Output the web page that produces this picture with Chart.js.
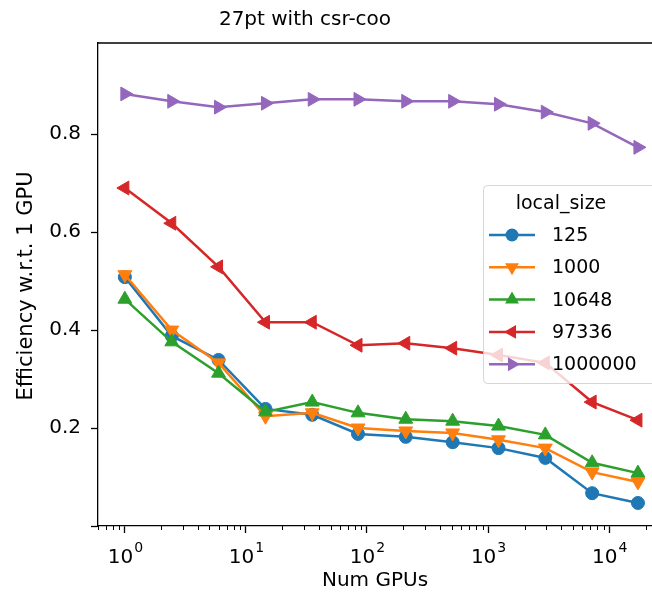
<!DOCTYPE html>
<html>
<head>
<meta charset="utf-8">
<script src="https://cdn.jsdelivr.net/npm/chart.js@4"></script>
<style>
  body { margin: 0; background: #fff; }
  canvas { display: block; }
</style>
</head>
<body>
<canvas id="effChart" width="652" height="595"></canvas>
<script>
// Num GPUs on the x axis
const numGpus = [1, 2.44, 5.94, 14.5, 35.3, 84.3, 209, 510, 1220, 2970, 7240, 17300];

// efficiency w.r.t. 1 GPU, one array per local_size
const eff125 = [0.508, 0.388, 0.339, 0.239, 0.227, 0.188, 0.182, 0.171, 0.159, 0.139, 0.067, 0.047];
const eff1000 = [0.513, 0.400, 0.333, 0.224, 0.231, 0.200, 0.194, 0.190, 0.176, 0.159, 0.110, 0.090];
const eff10648 = [0.463, 0.376, 0.312, 0.233, 0.253, 0.231, 0.218, 0.214, 0.204, 0.186, 0.129, 0.108];
const eff97336 = [0.690, 0.618, 0.529, 0.416, 0.416, 0.369, 0.373, 0.363, 0.349, 0.333, 0.253, 0.216];
const eff1000000 = [0.882, 0.867, 0.855, 0.863, 0.871, 0.871, 0.867, 0.867, 0.861, 0.845, 0.822, 0.773];

const sizeLabels = ["125", "1000", "10648", "97336", "1000000"];
const xTickValues = [1, 10, 100, 1000, 10000];
const yTickValues = [0, 0.2, 0.4, 0.6, 0.8];

const FONT = "'DejaVu Sans', sans-serif";
const colors = ["#1f77b4", "#ff7f0e", "#2ca02c", "#d62728", "#9467bd"];
const styles = [
  { style: "circle", rot: 0, r: 6.5 },
  { style: "triangle", rot: 180, r: 8 },
  { style: "triangle", rot: 0, r: 8 },
  { style: "triangle", rot: -90, r: 8 },
  { style: "triangle", rot: 90, r: 8 },
];
const series = [eff125, eff1000, eff10648, eff97336, eff1000000];

const datasets = series.map((vals, i) => ({
  label: sizeLabels[i],
  data: vals.map((v, j) => ({ x: numGpus[j], y: v })),
  borderColor: colors[i],
  backgroundColor: colors[i],
  borderWidth: 2.5,
  pointStyle: styles[i].style,
  rotation: styles[i].rot,
  pointRadius: styles[i].r,
  pointBorderWidth: 1,
  pointBorderColor: colors[i],
  pointBackgroundColor: colors[i],
  tension: 0,
  order: 5 - i,
}));

function drawMarker(ctx, m, x, y) {
  ctx.beginPath();
  if (m.style === "circle") {
    ctx.arc(x, y, m.r, 0, Math.PI * 2);
  } else {
    for (let k = 0; k < 3; k++) {
      const a = (m.rot * Math.PI) / 180 + (k * 2 * Math.PI) / 3;
      const px = x + Math.sin(a) * m.r;
      const py = y - Math.cos(a) * m.r;
      if (k === 0) ctx.moveTo(px, py);
      else ctx.lineTo(px, py);
    }
    ctx.closePath();
  }
  ctx.fill();
}

const decor = {
  id: "decor",
  afterDraw(chart) {
    const ctx = chart.ctx;
    const a = chart.chartArea;
    const xs = chart.scales.x;
    ctx.save();

    // top spine
    ctx.strokeStyle = "#000";
    ctx.lineWidth = 1.3;
    ctx.beginPath();
    ctx.moveTo(a.left, a.top);
    ctx.lineTo(a.right, a.top);
    ctx.stroke();

    // minor log ticks
    ctx.lineWidth = 1;
    ctx.beginPath();
    for (let e = -1; e <= 4; e++) {
      for (let m = 2; m <= 9; m++) {
        const v = m * Math.pow(10, e);
        if (v < xs.min || v > xs.max) continue;
        const px = Math.round(xs.getPixelForValue(v)) + 0.5;
        ctx.moveTo(px, a.bottom);
        ctx.lineTo(px, a.bottom + 4);
      }
    }
    ctx.stroke();

    // x tick labels 10^k
    ctx.fillStyle = "#000";
    ctx.textBaseline = "alphabetic";
    xTickValues.forEach((v) => {
      const px = xs.getPixelForValue(v);
      const exp = String(Math.round(Math.log10(v)));
      ctx.font = "20px " + FONT;
      const wBase = ctx.measureText("10").width;
      ctx.font = "14px " + FONT;
      const wExp = ctx.measureText(exp).width;
      const left = px - (wBase + wExp) / 2;
      ctx.font = "20px " + FONT;
      ctx.textAlign = "left";
      ctx.fillText("10", left, 563);
      ctx.font = "14px " + FONT;
      ctx.fillText(exp, left + wBase + 1, 552);
    });

    // title and axis titles
    ctx.font = "20px " + FONT;
    ctx.textAlign = "center";
    ctx.textBaseline = "middle";
    ctx.fillText("27pt with csr-coo", 305, 20);
    ctx.fillText("Num GPUs", (a.left + a.right) / 2, 581);
    ctx.save();
    ctx.font = "21px " + FONT;
    ctx.translate(27, 286);
    ctx.rotate(-Math.PI / 2);
    ctx.fillText("Efficiency w.r.t. 1 GPU", 0, 0);
    ctx.restore();

    // legend box
    ctx.fillStyle = "rgba(255,255,255,0.8)";
    ctx.strokeStyle = "rgba(204,204,204,0.8)";
    ctx.lineWidth = 1;
    ctx.beginPath();
    ctx.roundRect(483.5, 185.5, 190, 198, 4);
    ctx.fill();
    ctx.stroke();

    ctx.fillStyle = "#000";
    ctx.font = "19px " + FONT;
    ctx.textAlign = "center";
    ctx.fillText("local_size", 561, 204);
    ctx.textAlign = "left";
    chart.data.datasets.forEach((ds, i) => {
      const yy = 235 + i * 32.3;
      ctx.strokeStyle = ds.borderColor;
      ctx.lineWidth = 2.5;
      ctx.beginPath();
      ctx.moveTo(489, yy);
      ctx.lineTo(535, yy);
      ctx.stroke();
      ctx.fillStyle = ds.borderColor;
      drawMarker(ctx, styles[i], 512, yy);
      ctx.fillStyle = "#000";
      ctx.fillText(ds.label, 552, yy + 1);
    });

    ctx.restore();
  },
};

const effCtx = document.getElementById("effChart").getContext("2d");

const effChart = new Chart(effCtx, {
  type: "line",
  data: { datasets: datasets },
  options: {
    responsive: false,
    animation: false,
    layout: { autoPadding: false, padding: { top: 43, left: 0, right: 0, bottom: 0 } },
    plugins: {
      legend: { display: false },
      title: { display: false },
      tooltip: { enabled: false },
    },
    scales: {
      x: {
        type: "logarithmic",
        min: 0.6225,
        max: 22600,
        afterBuildTicks: (scale) => {
          scale.ticks = xTickValues.map((v) => ({ value: v }));
        },
        afterFit: (scale) => {
          scale.height = 69;
          scale.paddingLeft = 0;
          scale.paddingRight = 0;
        },
        ticks: {
          callback: () => "",
          font: { family: FONT, size: 20 },
          color: "#000",
        },
        grid: {
          drawOnChartArea: false,
          drawTicks: true,
          tickLength: 7,
          tickColor: "#000",
          tickWidth: 1.3,
        },
        border: { display: true, color: "#000", width: 1.3 },
      },
      y: {
        type: "linear",
        min: 0,
        max: 0.986,
        afterBuildTicks: (scale) => {
          scale.ticks = yTickValues.map((v) => ({ value: v }));
        },
        afterFit: (scale) => {
          scale.width = 98;
          scale.paddingTop = 0;
          scale.paddingBottom = 0;
        },
        ticks: {
          callback: (v) => (v === 0 ? "" : v.toFixed(1)),
          font: { family: FONT, size: 20 },
          color: "#000",
          padding: 10,
        },
        grid: {
          drawOnChartArea: false,
          drawTicks: true,
          tickLength: 7,
          tickColor: "#000",
          tickWidth: 1.3,
        },
        border: { display: true, color: "#000", width: 1.3 },
      },
    },
  },
  plugins: [decor],
});
</script>
</body>
</html>
